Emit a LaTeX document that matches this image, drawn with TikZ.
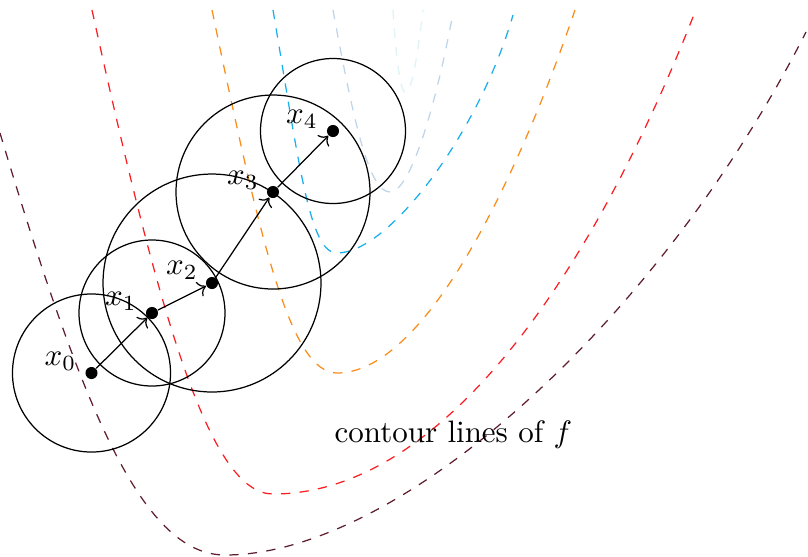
\documentclass[tikz,border=0pt]{standalone}
\usetikzlibrary{arrows.meta}
\definecolor{cmaroon}{RGB}{95,30,45}
\definecolor{cred}{RGB}{250,30,35}
\definecolor{corange}{RGB}{250,140,25}
\definecolor{ccyan}{RGB}{25,175,235}
\definecolor{clight}{RGB}{190,212,232}
\definecolor{cvlight}{RGB}{222,242,248}
\begin{document}
\begin{tikzpicture}[x=0.3226pt,y=-0.3226pt,
  dot/.style={circle,fill=black,inner sep=0pt,minimum size=3.9pt},
  lab/.style={inner sep=0pt},
  contour/.style={dashed,line width=0.4pt},
  ball/.style={draw=black,line width=0.4pt},
  stepline/.style={->,line width=0.4pt}]
\useasboundingbox (0,0) rectangle (808,556);
% contour lines
\draw[contour,cmaroon] (0,133) .. controls (80,400) and (140,555) .. (225,555)
   .. controls (400,555) and (660,320) .. (806,32);
\draw[contour,cred] (92,10) .. controls (160,320) and (210,494) .. (273,494)
   .. controls (440,494) and (590,280) .. (695,12);
\draw[contour,corange] (212,10) .. controls (260,240) and (290,373) .. (337,373)
   .. controls (420,373) and (510,200) .. (575,10);
\draw[contour,ccyan] (273,10) .. controls (300,170) and (310,253) .. (337,253)
   .. controls (390,253) and (480,130) .. (513,15);
\draw[contour,clight] (333,10) .. controls (355,130) and (370,192) .. (390,192)
   .. controls (410,192) and (435,110) .. (453,13);
\draw[contour,cvlight] (393,10) .. controls (400,120) and (410,120) .. (423,10);
% iterates
\node[dot] (x0) at (91.5,373) {};
\node[dot] (x1) at (152,313) {};
\node[dot] (x2) at (212,283) {};
\node[dot] (x3) at (273,192) {};
\node[dot] (x4) at (333,131) {};
% trust regions
\draw[ball] (x0) circle[radius=25.49pt];
\draw[ball] (x1) circle[radius=23.55pt];
\draw[ball] (x2) circle[radius=35.16pt];
\draw[ball] (x3) circle[radius=31.29pt];
\draw[ball] (x4) circle[radius=23.39pt];
% steps
\draw[stepline] (x0) -- (x1);
\draw[stepline] (x1) -- (x2);
\draw[stepline] (x2) -- (x3);
\draw[stepline] (x3) -- (x4);
% labels
\node[lab] (l0) at ([shift={(-31,-12)}]x0) {$x_0$};
\node[lab] (l1) at ([shift={(-31,-12)}]x1) {$x_1$};
\node[lab] (l2) at ([shift={(-30,-13)}]x2) {$x_2$};
\node[lab] (l3) at ([shift={(-30,-12)}]x3) {$x_3$};
\node[lab] (l4) at ([shift={(-31,-12)}]x4) {$x_4$};
\node[anchor=base west,inner sep=0pt] (cap) at (334,442) {contour lines of $f$};
\end{tikzpicture}
\end{document}
